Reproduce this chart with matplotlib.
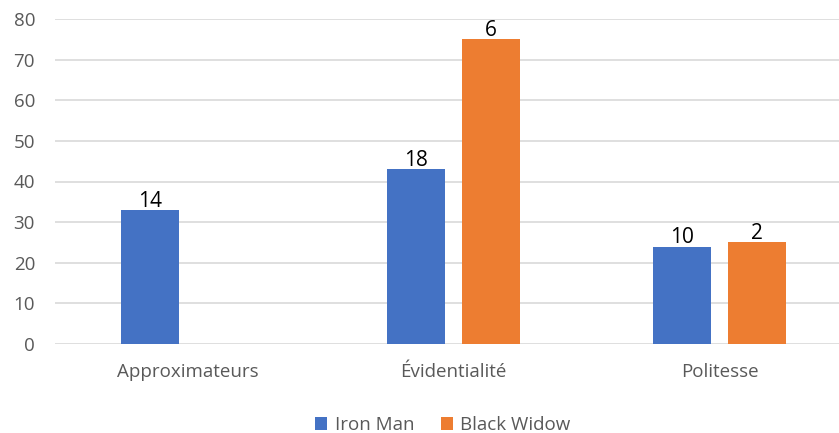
import numpy as np
import matplotlib.pyplot as plt

# données
categories = ["Approximateurs", "Évidentialité", "Politesse"]
iron_man = [33, 43, 24]
black_widow = [0, 75, 25]
iron_man_labels = ["14", "18", "10"]
black_widow_labels = ["", "6", "2"]

plt.rcParams['font.family'] = ['Open Sans', 'DejaVu Sans']

fig = plt.figure(figsize=(8.39, 4.33), dpi=100, facecolor="white")
ax = fig.add_axes([54.5 / 839, 89 / 433, (839 - 54.5) / 839, 325 / 433])

x = np.arange(len(categories))
w = 0.218
off = 0.141
b1 = ax.bar(x - off, iron_man, w, color="#4472C4", label="Iron Man", zorder=3)
b2 = ax.bar(x + off, black_widow, w, color="#ED7D31", label="Black Widow", zorder=3)

for bars, labs in [(b1, iron_man_labels), (b2, black_widow_labels)]:
    for bar, lab in zip(bars, labs):
        if lab:
            ax.text(bar.get_x() + bar.get_width() / 2, bar.get_height() - 0.4, lab,
                    ha="center", va="bottom", fontsize=15, color="black")

ax.set_ylim(0, 80)
ax.set_xlim(-0.5, 2.449)
ax.set_yticks(range(0, 81, 10))
ax.set_xticks(x)
ax.set_xticklabels(categories)
ax.yaxis.grid(True, color="#D9D9D9", linewidth=1.2, zorder=0)
for s in ax.spines.values():
    s.set_visible(False)
ax.tick_params(axis="both", length=0, labelsize=13.5, colors="#595959")
ax.tick_params(axis="x", pad=14)
ax.tick_params(axis="y", pad=14)

ax.legend(loc="center", bbox_to_anchor=(0.495, -0.25), ncol=2, frameon=False,
          fontsize=13.5, labelcolor="#595959", handlelength=0.65, handleheight=0.65,
          handletextpad=0.4, columnspacing=1.4)

plt.savefig("out.png", dpi=100, facecolor="white")
